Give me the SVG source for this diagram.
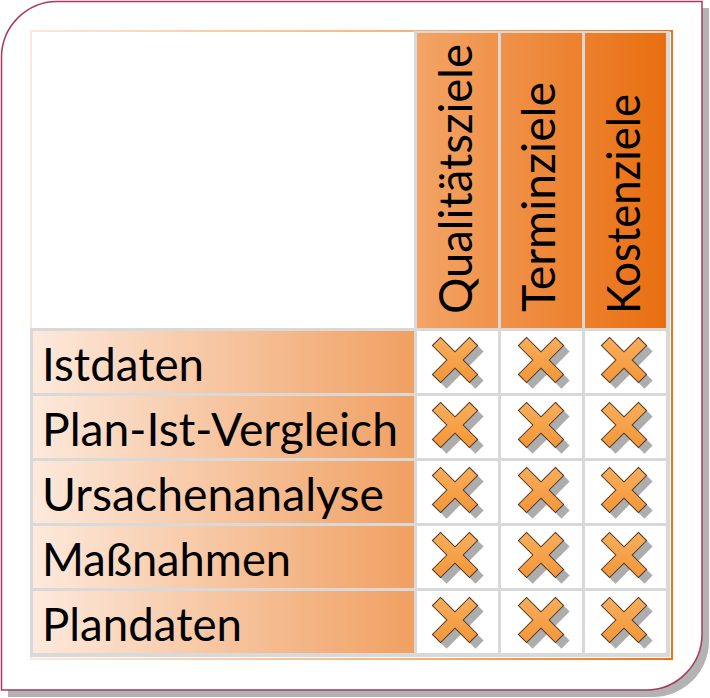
<svg xmlns="http://www.w3.org/2000/svg" width="710" height="698" viewBox="0 0 710 698">
<defs>
<linearGradient id="gFrame" gradientUnits="userSpaceOnUse" x1="30" y1="0" x2="672" y2="0">
<stop offset="0" stop-color="#fde8d8"/><stop offset="0.6" stop-color="#f5b27c"/><stop offset="1" stop-color="#ec7516"/>
</linearGradient>
<linearGradient id="gHead" gradientUnits="userSpaceOnUse" x1="417" y1="0" x2="666" y2="0">
<stop offset="0" stop-color="#f3a466"/><stop offset="1" stop-color="#e96e10"/>
</linearGradient>
<linearGradient id="gLabel" gradientUnits="userSpaceOnUse" x1="33" y1="0" x2="414" y2="0">
<stop offset="0" stop-color="#fde9dc"/><stop offset="1" stop-color="#f0a062"/>
</linearGradient>
<linearGradient id="gX" x1="0" y1="0" x2="1" y2="1">
<stop offset="0" stop-color="#fbb566"/><stop offset="1" stop-color="#f28f2e"/>
</linearGradient>
<polygon id="plus" points="-5.8,-26.2 5.8,-26.2 5.8,-5.8 26.2,-5.8 26.2,5.8 5.8,5.8 5.8,26.2 -5.8,26.2 -5.8,5.8 -26.2,5.8 -26.2,-5.8 -5.8,-5.8" transform="rotate(45)"/>
<g id="xmark">
<use href="#plus" transform="translate(6,6)" fill="#adadad"/>
<use href="#plus" fill="url(#gX)" stroke="#4a3826" stroke-width="1"/>
</g>
</defs>
<style>
.lbl{font-family:Lato,"Noto Sans",sans-serif;font-size:46px;fill:#000}
.hd{font-family:Lato,"Noto Sans",sans-serif;font-size:46px;fill:#000}
.grid{fill:#d9d9d9}
</style>
<g id="frame">
<path d="M64,8 H709 V641 A56,56 0 0 1 653,697 H8 V64 A56,56 0 0 1 64,8 Z" fill="#b3b3b3"/>
<path d="M57,1.5 H702 V634 A56,56 0 0 1 646,690 H1.5 V57 A56,56 0 0 1 57,1.5 Z" fill="#ffffff" stroke="#a83a60" stroke-width="1.5"/>
</g>
<g id="table">
<rect x="31" y="31" width="641" height="628" fill="#ffffff" stroke="url(#gFrame)" stroke-width="2"/>
<rect class="grid" x="414" y="31" width="256" height="300"/>
<rect class="grid" x="30" y="328" width="640" height="329"/>
</g>
<g id="header-qualitaet">
<rect x="417" y="33" width="81" height="295" fill="url(#gHead)"/>
<text class="hd" transform="translate(472,314) rotate(-90)" textLength="270" lengthAdjust="spacingAndGlyphs">Qualitätsziele</text>
</g>
<g id="header-termin">
<rect x="501" y="33" width="81" height="295" fill="url(#gHead)"/>
<text class="hd" transform="translate(555,312) rotate(-90)" textLength="230" lengthAdjust="spacingAndGlyphs">Terminziele</text>
</g>
<g id="header-kosten">
<rect x="585" y="33" width="81" height="295" fill="url(#gHead)"/>
<text class="hd" transform="translate(640,314) rotate(-90)" textLength="220" lengthAdjust="spacingAndGlyphs">Kostenziele</text>
</g>
<g id="row-istdaten">
<rect x="33" y="331" width="381" height="62" fill="url(#gLabel)"/>
<text class="lbl" x="42" y="381" textLength="162" lengthAdjust="spacingAndGlyphs">Istdaten</text>
<rect x="417" y="331" width="81" height="62" fill="#fff"/>
<rect x="501" y="331" width="81" height="62" fill="#fff"/>
<rect x="585" y="331" width="81" height="62" fill="#fff"/>
<use href="#xmark" x="455" y="360"/><use href="#xmark" x="541" y="360"/><use href="#xmark" x="624" y="360"/>
</g>
<g id="row-planist">
<rect x="33" y="396" width="381" height="62" fill="url(#gLabel)"/>
<text class="lbl" x="42" y="446" textLength="356" lengthAdjust="spacingAndGlyphs">Plan-Ist-Vergleich</text>
<rect x="417" y="396" width="81" height="62" fill="#fff"/>
<rect x="501" y="396" width="81" height="62" fill="#fff"/>
<rect x="585" y="396" width="81" height="62" fill="#fff"/>
<use href="#xmark" x="455" y="425"/><use href="#xmark" x="541" y="425"/><use href="#xmark" x="624" y="425"/>
</g>
<g id="row-ursachen">
<rect x="33" y="461" width="381" height="62" fill="url(#gLabel)"/>
<text class="lbl" x="42" y="511" textLength="342" lengthAdjust="spacingAndGlyphs">Ursachenanalyse</text>
<rect x="417" y="461" width="81" height="62" fill="#fff"/>
<rect x="501" y="461" width="81" height="62" fill="#fff"/>
<rect x="585" y="461" width="81" height="62" fill="#fff"/>
<use href="#xmark" x="455" y="490"/><use href="#xmark" x="541" y="490"/><use href="#xmark" x="624" y="490"/>
</g>
<g id="row-massnahmen">
<rect x="33" y="526" width="381" height="62" fill="url(#gLabel)"/>
<text class="lbl" x="42" y="576" textLength="249" lengthAdjust="spacingAndGlyphs">Maßnahmen</text>
<rect x="417" y="526" width="81" height="62" fill="#fff"/>
<rect x="501" y="526" width="81" height="62" fill="#fff"/>
<rect x="585" y="526" width="81" height="62" fill="#fff"/>
<use href="#xmark" x="455" y="555"/><use href="#xmark" x="541" y="555"/><use href="#xmark" x="624" y="555"/>
</g>
<g id="row-plandaten">
<rect x="33" y="591" width="381" height="62" fill="url(#gLabel)"/>
<text class="lbl" x="42" y="641" textLength="200" lengthAdjust="spacingAndGlyphs">Plandaten</text>
<rect x="417" y="591" width="81" height="62" fill="#fff"/>
<rect x="501" y="591" width="81" height="62" fill="#fff"/>
<rect x="585" y="591" width="81" height="62" fill="#fff"/>
<use href="#xmark" x="455" y="620"/><use href="#xmark" x="541" y="620"/><use href="#xmark" x="624" y="620"/>
</g>
<g id="connectors"/>
</svg>
